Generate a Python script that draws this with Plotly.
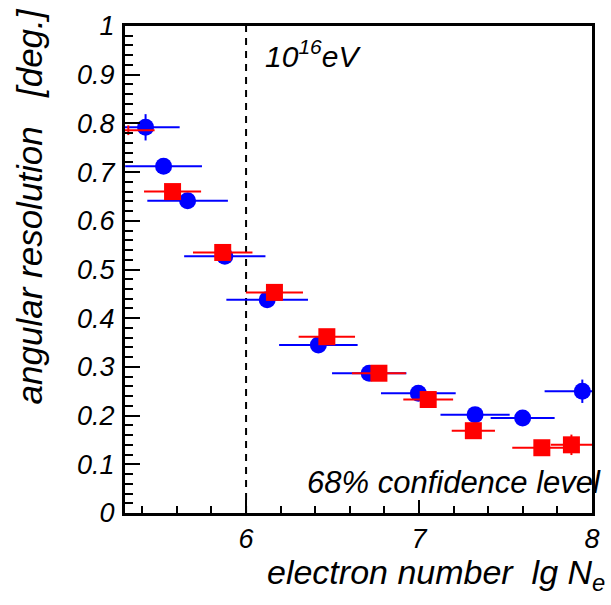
import plotly.graph_objects as go

# ---- data ----
blue_x = [5.419, 5.523, 5.662, 5.877, 6.122, 6.418, 6.712, 6.996, 7.324, 7.599, 7.944]
blue_y = [0.792, 0.712, 0.641, 0.527, 0.438, 0.345, 0.287, 0.246, 0.202, 0.195, 0.250]
blue_xerr = [0.197, 0.222, 0.233, 0.235, 0.236, 0.227, 0.215, 0.216, 0.200, 0.185, 0.218]
blue_yerr = [0.027, 0.008, 0.008, 0.008, 0.008, 0.008, 0.008, 0.008, 0.008, 0.008, 0.024]

red_x = [5.319, 5.575, 5.865, 6.164, 6.467, 6.768, 7.053, 7.314, 7.710, 7.881]
red_y = [0.786, 0.660, 0.535, 0.453, 0.362, 0.287, 0.233, 0.169, 0.134, 0.140]
red_xerr = [0.152, 0.165, 0.172, 0.165, 0.163, 0.156, 0.144, 0.125, 0.171, 0.119]
red_yerr = [0.010, 0.008, 0.008, 0.008, 0.008, 0.008, 0.008, 0.008, 0.008, 0.021]
red_marker_size = [0, 17, 17, 17, 17, 17, 17, 17, 17, 17]  # first point marker not drawn

y_ticks = [0, 0.1, 0.2, 0.3, 0.4, 0.5, 0.6, 0.7, 0.8, 0.9, 1.0]
y_labels = ["0", "0.1", "0.2", "0.3", "0.4", "0.5", "0.6", "0.7", "0.8", "0.9", "1"]
x_ticks = [6, 7, 8]
x_labels = ["6", "7", "8"]
threshold_x = 6.0

FONT = "Liberation Sans, Arial, sans-serif"
BLUE = "#0000ff"
RED = "#ff0000"

fig = go.Figure()
fig.add_trace(go.Scatter(
    x=blue_x, y=blue_y, mode="markers", opacity=1,
    marker=dict(symbol="circle", size=17, color=BLUE, opacity=1, line=dict(width=0)),
    error_x=dict(type="data", array=blue_xerr, color=BLUE, thickness=2, width=0),
    error_y=dict(type="data", array=blue_yerr, color=BLUE, thickness=2, width=0),
    showlegend=False,
))
fig.add_trace(go.Scatter(
    x=red_x, y=red_y, mode="markers", opacity=1,
    marker=dict(symbol="square", size=red_marker_size, color=RED, opacity=1, line=dict(width=0)),
    error_x=dict(type="data", array=red_xerr, color=RED, thickness=2, width=0),
    error_y=dict(type="data", array=red_yerr, color=RED, thickness=2, width=0),
    showlegend=False,
))

fig.add_shape(type="line", xref="x", yref="paper", x0=threshold_x, x1=threshold_x, y0=0, y1=1,
              line=dict(color="black", width=2, dash="7px,6px"), layer="below")

fig.update_layout(
    width=611, height=605,
    margin=dict(l=125, r=11, t=20, b=92),
    paper_bgcolor="white", plot_bgcolor="white",
    font=dict(family=FONT, color="black"),
    xaxis=dict(
        range=[5.3, 8.0], tickvals=x_ticks, ticktext=x_labels,
        ticks="inside", ticklen=13, tickwidth=2, tickcolor="black",
        minor=dict(dtick=0.2, tick0=0, ticks="inside", ticklen=7, tickwidth=2, tickcolor="black"),
        showline=True, linewidth=3, linecolor="black", mirror=True,
        showgrid=False, zeroline=False,
        tickfont=dict(family=FONT, size=27, style="italic", color="black"),
        ticklabelstandoff=0,
    ),
    yaxis=dict(
        range=[0, 1], tickvals=y_ticks, ticktext=y_labels,
        ticks="inside", ticklen=15, tickwidth=2, tickcolor="black",
        minor=dict(dtick=0.02, tick0=0, ticks="inside", ticklen=8, tickwidth=2, tickcolor="black"),
        showline=True, linewidth=3, linecolor="black", mirror=True,
        showgrid=False, zeroline=False,
        tickfont=dict(family=FONT, size=27, style="italic", color="black"),
        ticklabelstandoff=2,
    ),
    yaxis2=dict(
        range=[0, 1], overlaying="y", side="right", anchor="x",
        showticklabels=False, ticks="inside", ticklen=3, tickwidth=2, tickcolor="black",
        dtick=0.02, showgrid=False, zeroline=False, showline=False,
    ),
)

fig.add_annotation(xref="paper", yref="paper", x=0.2947, y=0.986, xanchor="left", yanchor="top",
                   text="10<sup>16</sup>eV", showarrow=False,
                   font=dict(family=FONT, size=30, style="italic", color="black"))
fig.add_annotation(xref="paper", yref="paper", x=0.385, y=0.022, xanchor="left", yanchor="bottom",
                   text="68% confidence level", showarrow=False,
                   font=dict(family=FONT, size=31, style="italic", color="black"))
fig.add_annotation(xref="paper", yref="paper", x=0.30, y=-0.078, xanchor="left", yanchor="top",
                   text="electron number\u00a0\u00a0lg N<sub>e</sub>", showarrow=False,
                   font=dict(family=FONT, size=34, style="italic", color="black"))
fig.add_annotation(xref="paper", yref="paper", x=-0.205, y=0.63, xanchor="center", yanchor="middle",
                   textangle=-90,
                   text="angular resolution\u00a0\u00a0\u00a0[deg.]", showarrow=False,
                   font=dict(family=FONT, size=35, style="italic", color="black"))

fig.write_html("out.html")
